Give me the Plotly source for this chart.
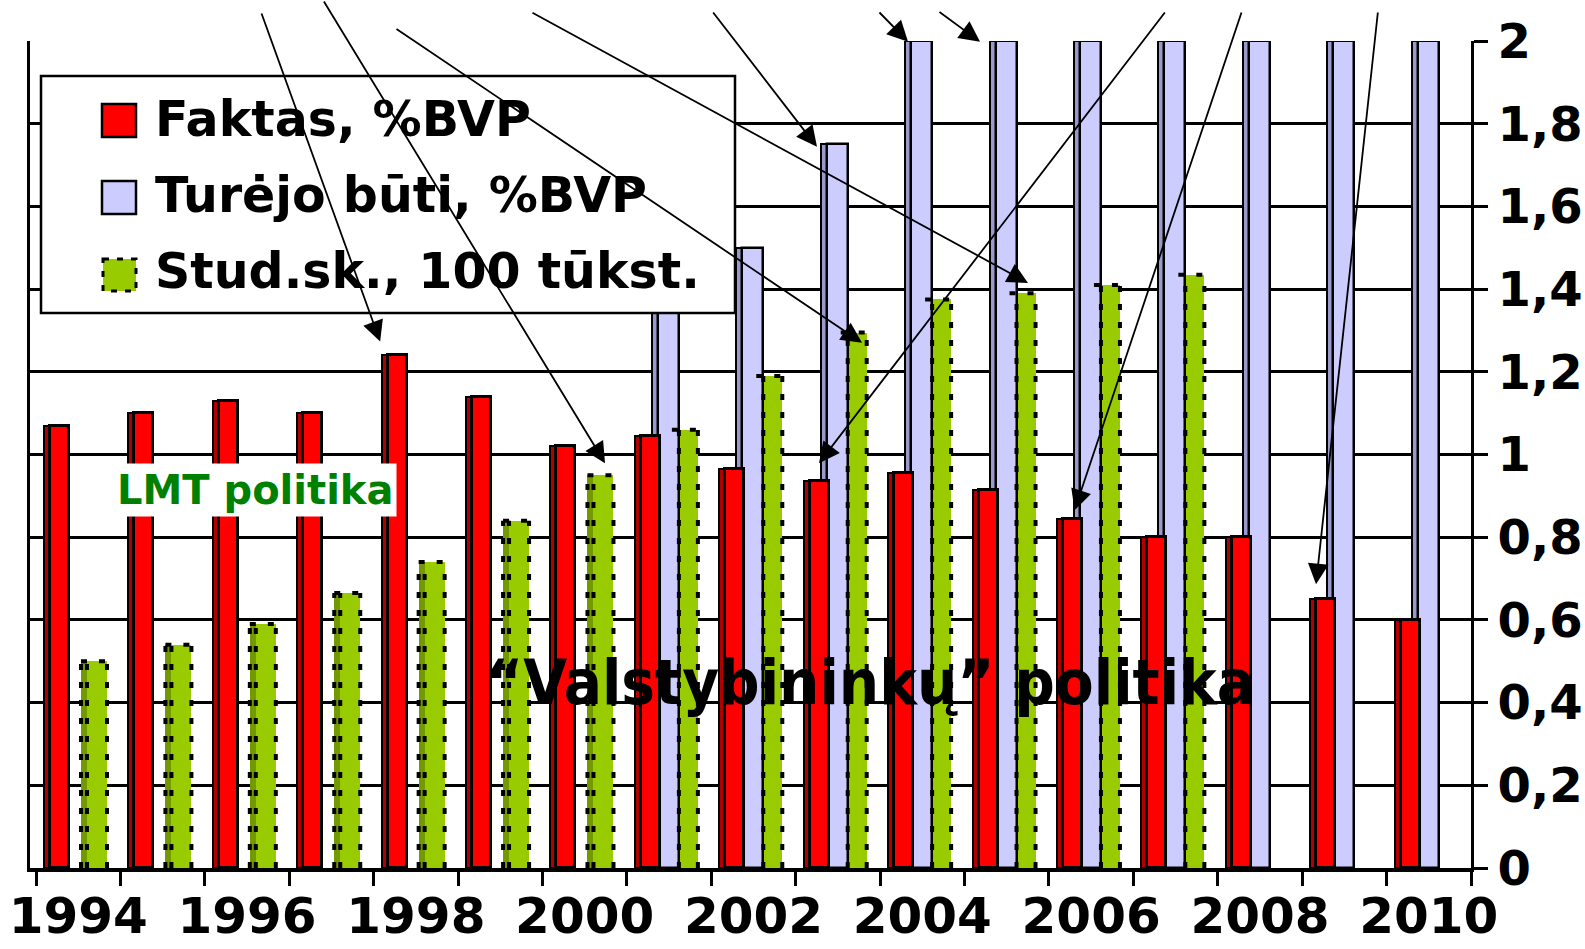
import plotly.graph_objects as go

# ---------------- data ----------------
years = list(range(1994, 2011))
faktas = [1.07, 1.10, 1.13, 1.10, 1.24, 1.14, 1.02, 1.045, 0.965, 0.935,
          0.955, 0.915, 0.845, 0.80, 0.80, 0.65, 0.60]
turejo_years = list(range(2001, 2011))
turejo = [1.35, 1.50, 1.75, 2.0, 2.0, 2.0, 2.0, 2.0, 2.0, 2.0]
stud_years = list(range(1994, 2008))
stud = [0.50, 0.54, 0.59, 0.665, 0.74, 0.84, 0.95, 1.06, 1.19, 1.295,
        1.375, 1.39, 1.41, 1.435]

series_names = ["Faktas, %BVP", "Turėjo būti, %BVP", "Stud.sk., 100 tūkst."]
y_tickvals = [0, 0.2, 0.4, 0.6, 0.8, 1.0, 1.2, 1.4, 1.6, 1.8, 2.0]
y_ticktext = ["0", "0,2", "0,4", "0,6", "0,8", "1", "1,2", "1,4", "1,6", "1,8", "2"]
x_tickvals = [1994, 1996, 1998, 2000, 2002, 2004, 2006, 2008, 2010]
x_ticktext = [str(v) for v in x_tickvals]

# ---------------- geometry ----------------
W, H = 1585, 949
PL, PR, PT, PB = 30, 1471, 41, 868          # plot area in pixels
CAT0 = 36                                    # pixel of first category boundary
U = (PR - CAT0) / 17.0                       # pixels per year
X_MIN = 1993.5 - (CAT0 - PL) / U
X_MAX = 2010.5
YPX = (PB - PT) / 2.0                        # pixels per unit of y


def u(px):
    return px / U


def px2x(px):
    return 1993.5 + (px - CAT0) / U


def py2y(py):
    return (PB - py) / YPX


def paper_x(px):
    return (px - PL) / (PR - PL)


def paper_y(py):
    return (PB - py) / (PB - PT)


RED, RED_S = "#FF0000", "#B00000"
LAV, LAV_S = "#CCCCFF", "#9999CC"
GRN, GRN_S = "#99CC00", "#739900"

# offsets (fraction of a year) for each bar piece
R_SIDE, R_SIDE_W = -0.5 + u(8), u(6)
R_FRONT, R_FRONT_W = -0.5 + u(14), u(19)
L_SIDE, L_SIDE_W = -0.5 + u(25), u(6)
L_FRONT, L_FRONT_W = -0.5 + u(31), u(21)
G_SIDE, G_SIDE_W = -0.5 + u(45), u(6)
G_FRONT, G_FRONT_W = -0.5 + u(51), u(20)

fig = go.Figure()

# green (student numbers) - drawn first (back)
fig.add_trace(go.Bar(x=stud_years, y=stud, offset=G_SIDE, width=G_SIDE_W,
                     marker=dict(color=GRN_S, line=dict(width=0)),
                     showlegend=False, hoverinfo="skip"))
fig.add_trace(go.Bar(x=stud_years, y=stud, offset=G_FRONT, width=G_FRONT_W,
                     marker=dict(color=GRN, line=dict(width=0)),
                     name=series_names[2], showlegend=False))
# lavender
fig.add_trace(go.Bar(x=turejo_years, y=turejo, offset=L_SIDE, width=L_SIDE_W,
                     marker=dict(color=LAV_S, line=dict(width=2, color="black")),
                     showlegend=False, hoverinfo="skip"))
fig.add_trace(go.Bar(x=turejo_years, y=turejo, offset=L_FRONT, width=L_FRONT_W,
                     marker=dict(color=LAV, line=dict(width=2.5, color="black")),
                     name=series_names[1], showlegend=False))
# red
fig.add_trace(go.Bar(x=years, y=faktas, offset=R_SIDE, width=R_SIDE_W,
                     marker=dict(color=RED_S, line=dict(width=2, color="black")),
                     showlegend=False, hoverinfo="skip"))
fig.add_trace(go.Bar(x=years, y=faktas, offset=R_FRONT, width=R_FRONT_W,
                     marker=dict(color=RED, line=dict(width=3, color="black")),
                     name=series_names[0], showlegend=False))

# dotted outlines of the green bars
dx, dy = [], []
for yr, v in zip(stud_years, stud):
    if yr in turejo_years:
        lefts = [L_FRONT + L_FRONT_W]
    else:
        lefts = [G_SIDE, G_FRONT]
    for off in lefts + [G_FRONT + G_FRONT_W]:
        dx += [yr + off, yr + off, None]
        dy += [0, v, None]
    dx += [yr + G_SIDE, yr + G_FRONT + G_FRONT_W, None]
    dy += [v, v, None]
fig.add_trace(go.Scatter(x=dx, y=dy, mode="lines", showlegend=False,
                         hoverinfo="skip",
                         line=dict(color="black", width=4, dash="6px,12px")))

# ---------------- arrows ----------------
val = {"f": dict(zip(years, faktas)), "t": dict(zip(turejo_years, turejo)),
       "s": dict(zip(stud_years, stud))}
arrows = [  # series, year, dx, dy, tail px x, tail px y
    ("f", 1998, -0.423, 0.033, 261, 12),
    ("s", 2000, 0.241, 0.029, 323, 0),
    ("s", 2003, 0.286, -0.025, 395, 28),
    ("s", 2005, 0.252, 0.025, 531, 12),
    ("t", 2003, -0.248, -0.006, 712, 11),
    ("t", 2004, -0.169, -0.002, 878, 11),
    ("t", 2005, -0.316, -0.002, 938, 11),
    ("f", 2003, -0.224, 0.044, 1166, 11),
    ("f", 2006, -0.197, 0.02, 1242, 11),
    ("f", 2009, -0.336, 0.036, 1378, 11),
]
annotations = []
for s, yr, ddx, ddy, tx, ty in arrows:
    annotations.append(dict(
        x=yr + ddx, y=val[s][yr] + ddy, xref="x", yref="y",
        ax=px2x(tx), ay=py2y(ty), axref="x", ayref="y",
        text="", showarrow=True, arrowhead=2, arrowsize=2.3,
        arrowwidth=1.8, arrowcolor="black", standoff=0))

BOLD = dict(family="DejaVu Sans", weight="bold", color="black")

# legend texts
for txt, cy in zip(series_names, [119, 195, 271]):
    annotations.append(dict(x=paper_x(153), y=paper_y(cy), xref="paper", yref="paper",
                            text=txt, showarrow=False, xanchor="left", yanchor="middle",
                            font=dict(size=49, **BOLD)))

annotations.append(dict(x=paper_x(255), y=paper_y(490), xref="paper", yref="paper",
                        text="LMT politika", showarrow=False, bgcolor="white",
                        borderpad=3, xanchor="center", yanchor="middle",
                        font=dict(family="DejaVu Sans", weight="bold", size=40,
                                  color="#008000")))
annotations.append(dict(x=paper_x(870), y=paper_y(682), xref="paper", yref="paper",
                        text="“Valstybininkų” politika", showarrow=False,
                        xanchor="center", yanchor="middle",
                        font=dict(family="DejaVu Sans Condensed, DejaVu Sans",
                                  weight="bold", size=63, color="black")))

shapes = [
    dict(type="rect", xref="paper", yref="paper",
         x0=paper_x(41), x1=paper_x(735), y0=paper_y(76), y1=paper_y(313),
         line=dict(color="black", width=2.5), fillcolor="white", layer="above"),
    dict(type="rect", xref="paper", yref="paper",
         x0=paper_x(102), x1=paper_x(136), y0=paper_y(104), y1=paper_y(137),
         line=dict(color="black", width=2.5), fillcolor=RED, layer="above"),
    dict(type="rect", xref="paper", yref="paper",
         x0=paper_x(102), x1=paper_x(136), y0=paper_y(181), y1=paper_y(214),
         line=dict(color="black", width=2.5), fillcolor=LAV, layer="above"),
    dict(type="rect", xref="paper", yref="paper",
         x0=paper_x(103), x1=paper_x(136), y0=paper_y(259), y1=paper_y(291),
         line=dict(color="black", width=3, dash="6px,8px"), fillcolor=GRN, layer="above"),
]

fig.update_layout(
    width=W, height=H,
    margin=dict(l=PL, r=W - PR, t=PT, b=H - PB, autoexpand=False),
    paper_bgcolor="white", plot_bgcolor="white",
    barmode="overlay", bargap=0,
    showlegend=False,
    annotations=annotations, shapes=shapes,
    xaxis=dict(range=[X_MIN, X_MAX], tickmode="array", tickvals=x_tickvals,
               ticktext=x_ticktext, ticks="", showgrid=False, zeroline=False,
               showline=True, linecolor="black", linewidth=4,
               ticklabelstandoff=1,
               tickfont=dict(size=50, **BOLD),
               minor=dict(tickmode="array",
                          tickvals=[1993.5 + i for i in range(18)],
                          ticks="outside", ticklen=14, tickwidth=3,
                          tickcolor="black", showgrid=False)),
    yaxis=dict(range=[0, 2.0], side="right", tickmode="array", tickvals=y_tickvals,
               ticktext=y_ticktext, ticks="outside", ticklen=14, tickwidth=2.5,
               tickcolor="black", showgrid=True, gridcolor="black", gridwidth=2.5,
               zeroline=False, showline=True, linecolor="black", linewidth=3,
               mirror=True, tickfont=dict(size=48, **BOLD)),
)

post = ("document.documentElement.style.margin='0';"
        "document.body.style.margin='0';document.body.style.overflow='hidden';"
        "var d=document.getElementById('{plot_id}');"
        "var p=d.parentElement;p.style.position='absolute';p.style.top='0';p.style.left='0';")
fig.write_html("out.html", config={"displayModeBar": False}, post_script=post)
